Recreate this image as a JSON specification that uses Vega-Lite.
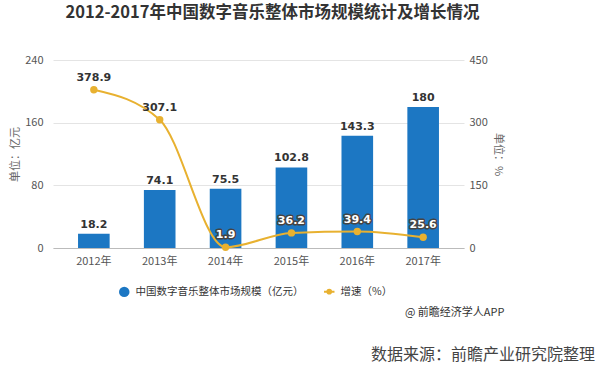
{
  "$schema": "https://vega.github.io/schema/vega-lite/v6.json",
  "width": 411,
  "height": 188,
  "autosize": {"type": "none"},
  "padding": {"left": 53, "top": 60, "right": 136, "bottom": 126},
  "background": "white",
  "title": {
    "text": "2012-2017年中国数字音乐整体市场规模统计及增长情况",
    "font": "Noto Sans CJK SC",
    "fontSize": 16.5,
    "fontWeight": "bold",
    "color": "#333333",
    "anchor": "middle",
    "dx": 14,
    "offset": 33
  },
  "config": {
    "font": "Noto Sans CJK SC",
    "view": {"stroke": null},
    "axis": {
      "labelFont": "Noto Sans CJK SC",
      "titleFont": "Noto Sans CJK SC",
      "labelFontSize": 11,
      "labelColor": "#555555",
      "titleColor": "#666666",
      "titleFontWeight": "normal",
      "titleFontSize": 11
    }
  },
  "data": {
    "values": [
      {"year": "2012年", "size": 18.2, "rate": 378.9},
      {"year": "2013年", "size": 74.1, "rate": 307.1},
      {"year": "2014年", "size": 75.5, "rate": 1.9},
      {"year": "2015年", "size": 102.8, "rate": 36.2},
      {"year": "2016年", "size": 143.3, "rate": 39.4},
      {"year": "2017年", "size": 180, "rate": 25.6}
    ]
  },
  "encoding": {
    "x": {
      "field": "year",
      "type": "nominal",
      "scale": {"paddingInner": 0.52, "paddingOuter": 0.38},
      "axis": {
        "title": null,
        "labelAngle": 0,
        "domainColor": "#bbbbbb",
        "ticks": false,
        "labelPadding": 7,
        "grid": false
      }
    }
  },
  "layer": [
    {
      "encoding": {
        "y": {
          "field": "size",
          "type": "quantitative",
          "scale": {"domain": [0, 240]},
          "axis": {
            "title": "单位：亿元",
            "values": [0, 80, 160, 240],
            "domain": false,
            "ticks": false,
            "labelPadding": 10,
            "titlePadding": 4,
            "gridColor": "#e4e4e4"
          }
        }
      },
      "layer": [
        {
          "mark": {"type": "bar", "color": "#1C77C3"},
          "encoding": {
            "color": {
              "datum": "中国数字音乐整体市场规模（亿元）",
              "scale": {
                "domain": ["中国数字音乐整体市场规模（亿元）", "增速（%）"],
                "range": ["#1C77C3", "#E8B130"]
              },
              "legend": {
                "title": null,
                "orient": "none",
                "legendX": 66,
                "legendY": 226,
                "direction": "horizontal",
                "labelFont": "Noto Sans CJK SC",
                "labelFontSize": 10.5,
                "labelColor": "#333333",
                "labelLimit": 0,
                "labelOffset": 6,
                "symbolType": "circle",
                "symbolSize": 110,
                "columnPadding": 16,
                "encode": {
                  "symbols": {
                    "update": {
                      "shape": {"signal": "datum.value == '增速（%）' ? 'M-1,0L1,0M0.35,0A0.35,0.35,0,1,1,-0.35,0A0.35,0.35,0,1,1,0.35,0' : 'circle'"},
                      "strokeWidth": {"signal": "datum.value == '增速（%）' ? 2 : 0"},
                      "stroke": {"signal": "datum.value == '增速（%）' ? '#E8B130' : '#1C77C3'"},
                      "fill": {"signal": "datum.value == '增速（%）' ? '#E8B130' : '#1C77C3'"}
                    }
                  }
                }
              }
            }
          }
        },
        {
          "mark": {"type": "text", "dy": -9, "fontWeight": "bold", "fontSize": 11, "color": "#333333", "font": "DejaVu Sans"},
          "encoding": {"text": {"field": "size", "type": "quantitative"}}
        }
      ]
    },
    {
      "encoding": {
        "y": {
          "field": "rate",
          "type": "quantitative",
          "scale": {"domain": [0, 450]},
          "axis": {
            "orient": "right",
            "title": "单位：%",
            "values": [0, 150, 300, 450],
            "domain": false,
            "ticks": false,
            "grid": false,
            "labelPadding": 5,
            "titlePadding": 5
          }
        }
      },
      "layer": [
        {
          "mark": {
            "type": "line",
            "interpolate": "monotone",
            "strokeWidth": 2,
            "point": {"filled": true, "size": 55, "color": "#E8B130"}
          },
          "encoding": {"color": {"datum": "增速（%）"}}
        },
        {
          "transform": [{"filter": "datum.rate < 100"}],
          "mark": {"type": "text", "dy": -12, "fontWeight": "bold", "fontSize": 11, "font": "DejaVu Sans", "stroke": "#444444", "strokeWidth": 3, "color": "#444444", "strokeJoin": "round"},
          "encoding": {"text": {"field": "rate", "type": "quantitative"}}
        },
        {
          "mark": {"type": "text", "dy": -12, "fontWeight": "bold", "fontSize": 11, "font": "DejaVu Sans"},
          "encoding": {
            "text": {"field": "rate", "type": "quantitative"},
            "color": {"condition": {"test": "datum.rate > 100", "value": "#333333"}, "value": "#ffffff"}
          }
        }
      ]
    },
    {
      "data": {"values": [{"t": "@ 前瞻经济学人APP"}]},
      "mark": {"type": "text", "align": "left", "baseline": "middle", "fontSize": 11, "color": "#333333"},
      "encoding": {"text": {"field": "t"}, "x": {"value": 352}, "y": {"value": 253}}
    },
    {
      "data": {"values": [{"t": "数据来源：前瞻产业研究院整理"}]},
      "mark": {"type": "text", "align": "right", "baseline": "middle", "fontSize": 16, "color": "#444444"},
      "encoding": {"text": {"field": "t"}, "x": {"value": 542}, "y": {"value": 295}}
    }
  ],
  "resolve": {"scale": {"y": "independent"}}
}
